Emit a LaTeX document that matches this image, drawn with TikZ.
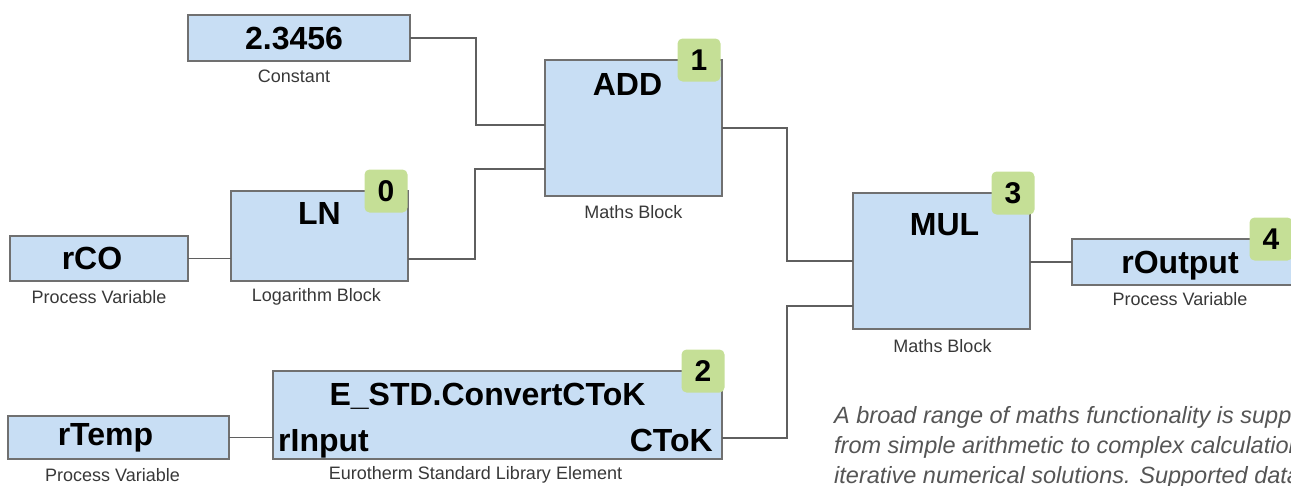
\documentclass[tikz,border=0pt]{standalone}
\usepackage{fontspec}
\setmainfont{Liberation Sans}
\usetikzlibrary{positioning}
\definecolor{blockblue}{RGB}{200,222,244}
\definecolor{badgegreen}{RGB}{197,223,150}
\definecolor{edgegray}{RGB}{112,112,112}
\definecolor{wiregray}{RGB}{95,95,95}
\definecolor{notegray}{RGB}{85,85,85}
\tikzset{
  block/.style={draw=edgegray, line width=1.3pt, fill=blockblue, inner sep=0pt, outer sep=0pt, anchor=north west},
  title/.style={inner sep=0pt, text height=22pt, text depth=0pt, font=\bfseries\fontsize{32}{32}\selectfont},
  badge/.style={fill=badgegreen, rounded corners=5pt, minimum width=43pt, minimum height=43pt, inner sep=0pt, font=\bfseries\fontsize{30}{30}\selectfont},
  caption/.style={inner sep=0pt, text=black!78, font=\fontsize{18}{18}\selectfont},
  wire/.style={draw=wiregray, line width=1.2pt},
}
\begin{document}
\begin{tikzpicture}[x=1pt,y=-1pt]
\useasboundingbox (0,0) rectangle (1291,485);
\clip (0,0) rectangle (1291,485);

% blocks
\node[block, minimum width=222pt, minimum height=46pt] (const) at (188,15) {};
\node[block, minimum width=177pt, minimum height=136pt] (add) at (545,60) {};
\node[block, minimum width=178pt, minimum height=45pt] (rco) at (10,236) {};
\node[block, minimum width=177pt, minimum height=90pt] (ln) at (231,191) {};
\node[block, minimum width=177pt, minimum height=136pt] (mul) at (853,193) {};
\node[block, minimum width=224pt, minimum height=46pt] (rout) at (1072,239) {};
\node[block, minimum width=221pt, minimum height=43pt] (rtemp) at (8,416) {};
\node[block, minimum width=449pt, minimum height=88pt] (conv) at (273,371) {};

% titles
\node[title] (const-t) at ([xshift=-5pt]const.center) {2.3456};
\node[title] (add-t) at ([xshift=-6pt,yshift=-24pt]add.north) {ADD};
\node[title] (rco-t) at ([xshift=-7pt]rco.center) {rCO};
\node[title] (ln-t) at ([yshift=-22pt]ln.north) {LN};
\node[title] (mul-t) at ([xshift=3pt,yshift=-31pt]mul.north) {MUL};
\node[title] (rout-t) at ([xshift=-4pt]rout.center) {rOutput};
\node[title] (rtemp-t) at ([xshift=-13pt,yshift=3pt]rtemp.center) {rTemp};
\node[title] (conv-t) at ([xshift=-10pt,yshift=-23pt]conv.north) {E\_STD.ConvertCToK};
\node[title, anchor=west] (conv-in) at ([xshift=5pt,yshift=19pt]conv.south west) {rInput};
\node[title, anchor=east] (conv-out-t) at ([xshift=-9pt,yshift=19pt]conv.south east) {CToK};

% execution order
\node[badge] (b0) at ([xshift=-22pt]ln.north east) {0};
\node[badge] (b1) at ([xshift=-23pt]add.north east) {1};
\node[badge] (b2) at ([xshift=-19pt]conv.north east) {2};
\node[badge] (b3) at ([xshift=-17pt]mul.north east) {3};
\node[badge] (b4) at (1271,239) {4};

% captions
\node[caption] (const-c) at ([xshift=-5pt,yshift=-15pt]const.south) {Constant};
\node[caption] (add-c) at ([yshift=-16pt]add.south) {Maths Block};
\node[caption] (rco-c) at ([yshift=-16pt]rco.south) {Process Variable};
\node[caption] (ln-c) at ([xshift=-3pt,yshift=-16pt]ln.south) {Logarithm Block};
\node[caption] (mul-c) at ([xshift=1pt,yshift=-17pt]mul.south) {Maths Block};
\node[caption] (rout-c) at ([xshift=-4pt,yshift=-14pt]rout.south) {Process Variable};
\node[caption] (rtemp-c) at ([xshift=-6pt,yshift=-16pt]rtemp.south) {Process Variable};
\node[caption] (conv-c) at ([xshift=-22pt,yshift=-16pt]conv.south) {Eurotherm Standard Library Element};

% ports
\coordinate (add-in1) at ([yshift=-65pt]add.north west);
\coordinate (add-in2) at ([yshift=-109pt]add.north west);
\coordinate (add-out) at ([yshift=-68pt]add.north east);
\coordinate (ln-out) at ([yshift=22pt]ln.south east);
\coordinate (mul-in1) at ([yshift=-68pt]mul.north west);
\coordinate (mul-in2) at ([yshift=-113pt]mul.north west);
\coordinate (conv-out) at ([yshift=21pt]conv.south east);

% wires
\draw[wire] (const.east) -- ++(66,0) |- (add-in1);
\draw[wire] (ln-out) -- ++(67,0) |- (add-in2);
\draw[wire] (rco.east) -- (rco.east -| ln.west);
\draw[wire] (add-out) -- ++(65,0) |- (mul-in1);
\draw[wire] (conv-out) -- ++(65,0) |- (mul-in2);
\draw[wire] (rout.west -| mul.east) -- (rout.west);
\draw[wire] (rtemp.east) -- (rtemp.east -| conv.west);

% note
\node[anchor=base west, align=left, inner sep=0pt, text=notegray,
  font=\itshape\fontsize{23.5}{30}\selectfont] (note) at (834,483)
  {A broad range of maths functionality is supported,\\
   from simple arithmetic to complex calculations and\\
   iterative numerical solutions. Supported data types};
\end{tikzpicture}
\end{document}
